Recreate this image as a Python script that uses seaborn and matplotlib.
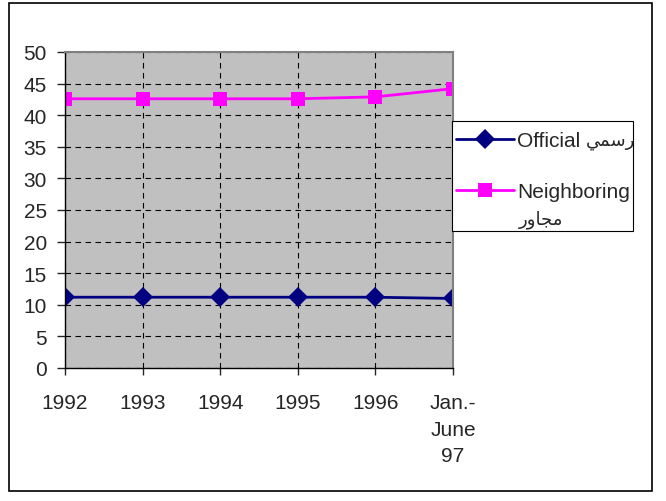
import pandas as pd
import matplotlib.pyplot as plt
import matplotlib.patches as mpatches
import seaborn as sns

# --- data ---
periods = ['1992', '1993', '1994', '1995', '1996', 'Jan.-\nJune\n97']
official = [11.2, 11.2, 11.2, 11.2, 11.2, 11.0]
neighboring = [42.6, 42.6, 42.6, 42.6, 42.9, 44.2]

# Arabic written in presentation forms, visual order (matplotlib has no shaping)
ar_official = '\uFEF2\uFEE4\uFEB3\uFEAD'
ar_neighboring = '\uFEAD\uFEED\uFE8E\uFEA0\uFEE3'
label_official = 'Official'
label_neighboring = 'Neighboring'

sample = pd.DataFrame({
    'pos': list(range(len(periods))) * 2,
    'value': official + neighboring,
    'series': [label_official] * len(periods) + [label_neighboring] * len(periods),
})

sns.set_style('white')
plt.rcParams['font.family'] = ['Liberation Sans', 'DejaVu Sans']
fs = 15

fig = plt.figure(figsize=(6.66, 5.02), dpi=100)
ax = fig.add_axes([65 / 666, 1 - 369 / 502, (453 - 65) / 666, (369 - 53) / 502])
ax.set_facecolor('#C0C0C0')

sns.lineplot(data=sample, x='pos', y='value', hue='series', style='series',
             palette=['#000080', '#FF00FF'], markers=['D', 's'], dashes=False,
             markersize=10, markeredgewidth=0, linewidth=2, ax=ax, legend=True)

ax.set_xlim(0, len(periods) - 1)
ax.set_ylim(0, 50)
ax.set_yticks(range(0, 51, 5))
ax.set_xticks(range(len(periods)))
ax.set_xticklabels(periods, fontsize=fs, linespacing=1.5, va='top')
ax.tick_params(axis='y', labelsize=fs, direction='out', length=6, width=1, left=True, pad=7)
ax.tick_params(axis='x', direction='out', length=5, width=1, bottom=True, pad=13)
ax.set_xlabel('')
ax.set_ylabel('')
ax.grid(True, color='black', linestyle=(0, (5, 4)), linewidth=0.8)

for side in ['top', 'right']:
    ax.spines[side].set_color('#808080')
    ax.spines[side].set_linewidth(1.5)
for side in ['left', 'bottom']:
    ax.spines[side].set_color('black')
    ax.spines[side].set_linewidth(1)

handles, labels = ax.get_legend_handles_labels()
ax.get_legend().remove()
leg = fig.legend(handles, labels, loc='upper left',
                 bbox_to_anchor=(456 / 666, 1 - 132 / 502), fontsize=fs,
                 frameon=False, handlelength=2.8, handletextpad=0.15,
                 labelspacing=1.55, borderpad=0, borderaxespad=0)

fig.text(586 / 666, 1 - 142 / 502, ar_official, fontsize=13, ha='left', va='center')
fig.text(519 / 666, 1 - 220 / 502, ar_neighboring, fontsize=13, ha='left', va='center')

# legend frame
fig.patches.append(mpatches.Rectangle((452 / 666, 1 - 232 / 502), (633 - 452) / 666, (232 - 122) / 502,
                                      transform=fig.transFigure, facecolor='white',
                                      edgecolor='black', linewidth=0.8, zorder=0))

# outer chart border
fig.patches.append(mpatches.Rectangle((9 / 666, 1 - 492 / 502), (652 - 9) / 666, (492 - 4) / 502,
                                      transform=fig.transFigure, fill=False,
                                      edgecolor='black', linewidth=1.2))

fig.savefig('out.png', dpi=100)
